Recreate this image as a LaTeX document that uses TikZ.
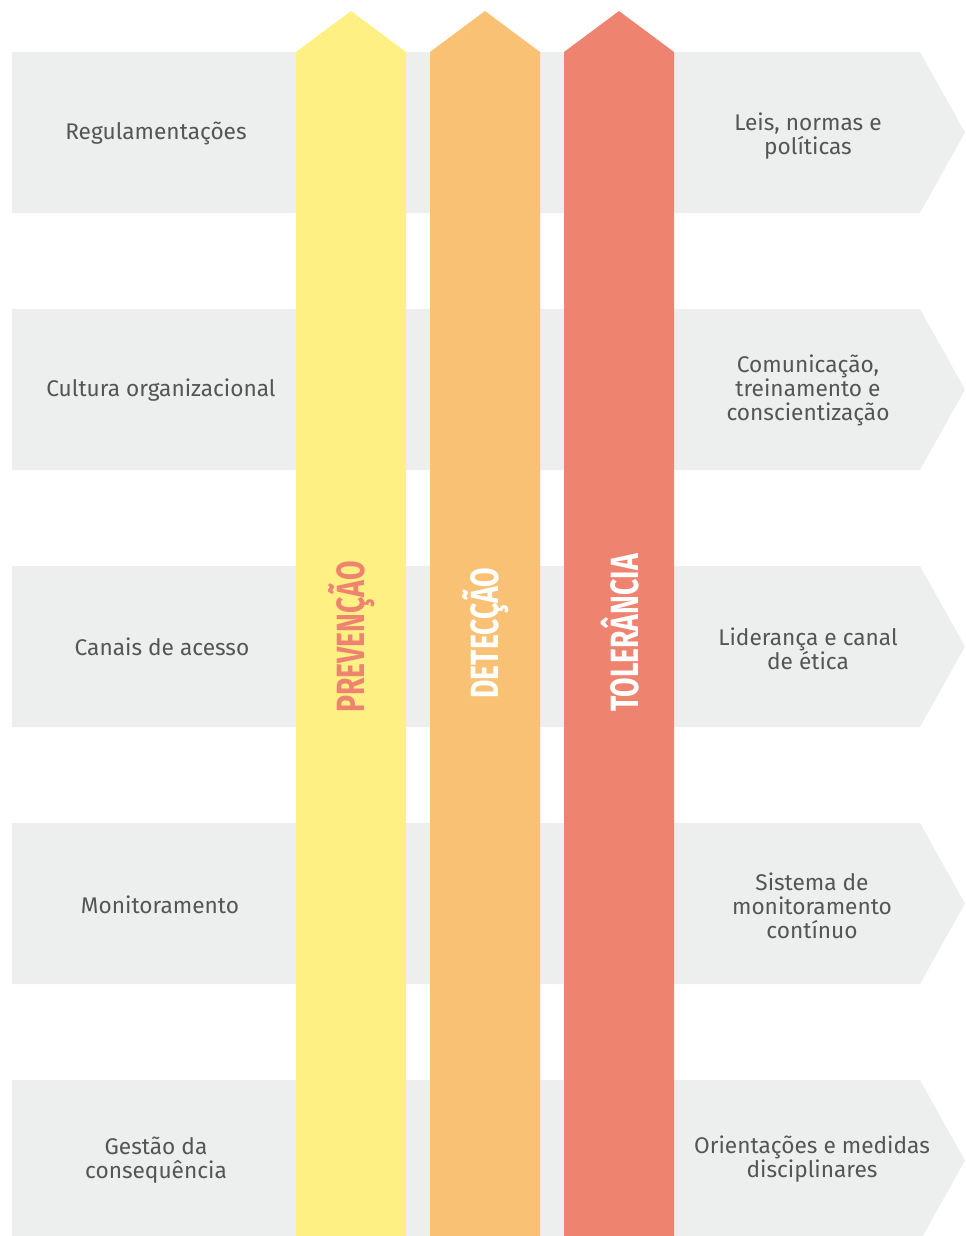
\documentclass[tikz,border=0pt]{standalone}
\usepackage{fontspec}
\setmainfont{Fira Sans}
\newfontfamily\pillarfont[FakeStretch=0.72]{Fira Sans}
\usepackage{tikz}

\definecolor{bandgray}{HTML}{EDEEEE}
\definecolor{textgray}{HTML}{555555}
\definecolor{prevyellow}{HTML}{FEF083}
\definecolor{detorange}{HTML}{F8C174}
\definecolor{tolred}{HTML}{EE8470}

\tikzset{
    bandtext/.style={align=center, text=textgray, inner sep=0pt,
        font=\fontsize{17}{18}\selectfont},
    pillartext/.style={rotate=90, inner sep=0pt,
        font=\pillarfont\bfseries\fontsize{29.5}{30}\selectfont}
}

\begin{document}
\begin{tikzpicture}[x=0.75pt,y=-0.75pt]
        \useasboundingbox (0,0) rectangle (965,1236);
        \clip (0,0) rectangle (965,1236);

        % faixas
        \foreach \y in {52,309,566,823,1080}
            \fill[bandgray] (12,\y) -- (920,\y) -- (965,\y+80.5) -- (920,\y+161) -- (12,\y+161) -- cycle;

        % pilares
        \fill[prevyellow] (296,1240) -- (296,52) -- (351,11) -- (406,52) -- (406,1240) -- cycle;
        \fill[detorange] (430,1240) -- (430,52) -- (485,11) -- (540,52) -- (540,1240) -- cycle;
        \fill[tolred] (564,1240) -- (564,52) -- (619,11) -- (674,52) -- (674,1240) -- cycle;

        \node[pillartext, text=tolred] (prev) at (352,637) {PREVENÇÃO};
        \node[pillartext, text=white] (detec) at (486,633) {DETECÇÃO};
        \node[pillartext, text=white] (toler) at (620,633) {TOLERÂNCIA};

        % esquerda
        \node[bandtext] (regul) at (156,133) {Regulamentações};
        \node[bandtext] (cult) at (161,390) {Cultura organizacional};
        \node[bandtext] (canais) at (162,647) {Canais de acesso};
        \node[bandtext] (monit) at (160,905) {Monitoramento};
        \node[bandtext] (gestao) at (156,1160) {Gestão da\\consequência};

        % direita
        \node[bandtext] (leis) at (808,136) {Leis, normas e\\políticas};
        \node[bandtext] (comun) at (808,390) {Comunicação,\\treinamento e\\conscientização};
        \node[bandtext] (lider) at (808,649) {Liderança e canal\\de ética};
        \node[bandtext] (sist) at (812,906) {Sistema de\\monitoramento\\contínuo};
        \node[bandtext] (orient) at (812,1159) {Orientações e medidas\\disciplinares};
\end{tikzpicture}
\end{document}
